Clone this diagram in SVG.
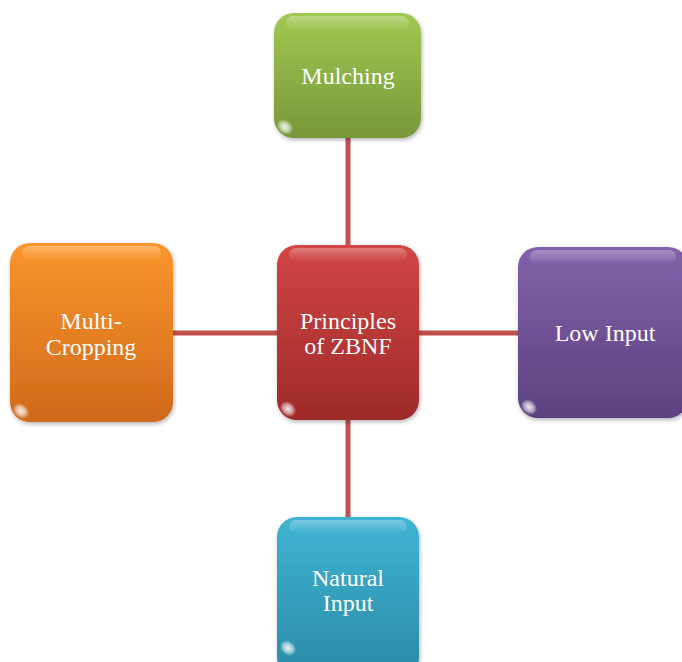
<svg xmlns="http://www.w3.org/2000/svg" width="682" height="662" viewBox="0 0 682 662">
<defs>
<linearGradient id="gGreen" x1="0" y1="0" x2="0" y2="1"><stop offset="0" stop-color="#a2c852"/><stop offset="1" stop-color="#78973a"/></linearGradient>
<linearGradient id="gRed" x1="0" y1="0" x2="0" y2="1"><stop offset="0" stop-color="#d24545"/><stop offset="1" stop-color="#9e2a2a"/></linearGradient>
<linearGradient id="gOrange" x1="0" y1="0" x2="0" y2="1"><stop offset="0" stop-color="#fa962c"/><stop offset="1" stop-color="#d0691c"/></linearGradient>
<linearGradient id="gPurple" x1="0" y1="0" x2="0" y2="1"><stop offset="0" stop-color="#8262ab"/><stop offset="1" stop-color="#5d4180"/></linearGradient>
<linearGradient id="gBlue" x1="0" y1="0" x2="0" y2="1"><stop offset="0" stop-color="#40b4d4"/><stop offset="1" stop-color="#2a8aa6"/></linearGradient>
<linearGradient id="gloss" x1="0" y1="0" x2="0" y2="1"><stop offset="0" stop-color="#fff" stop-opacity="0.3"/><stop offset="1" stop-color="#fff" stop-opacity="0"/></linearGradient>
<radialGradient id="spot" cx="0.5" cy="0.5" r="0.5"><stop offset="0" stop-color="#fff" stop-opacity="0.9"/><stop offset="0.6" stop-color="#fff" stop-opacity="0.5"/><stop offset="1" stop-color="#fff" stop-opacity="0"/></radialGradient>
<filter id="sh" x="-10%" y="-10%" width="125%" height="125%"><feGaussianBlur in="SourceAlpha" stdDeviation="2"/><feOffset dx="1" dy="2"/><feComponentTransfer><feFuncA type="linear" slope="0.3"/></feComponentTransfer><feMerge><feMergeNode/><feMergeNode in="SourceGraphic"/></feMerge></filter>
</defs>
<style>
.box{filter:url(#sh);}
.gl{fill:url(#gloss);}
.sp{fill:url(#spot);}
text{font-family:"Liberation Serif","Times New Roman",serif;font-size:24px;fill:#fff;text-anchor:middle;}
.conn{stroke:#c0504d;stroke-width:5;fill:none;}
</style>
<rect width="682" height="662" fill="#fff"/>
<g id="connectors">
<line class="conn" x1="348" y1="136" x2="348" y2="247"/>
<line class="conn" x1="348" y1="418" x2="348" y2="519"/>
<line class="conn" x1="171" y1="333" x2="279" y2="333"/>
<line class="conn" x1="417" y1="333" x2="520" y2="333"/>
</g>
<g id="mulching">
<rect class="box" x="274" y="13" width="147" height="125" rx="20" fill="url(#gGreen)"/>
<rect class="gl" x="286" y="16" width="123" height="14" rx="7"/>
<ellipse class="sp" cx="285" cy="127" rx="9" ry="7" transform="rotate(40 285 127)"/>
<text x="348" y="84">Mulching</text>
</g>
<g id="center">
<rect class="box" x="277" y="245" width="142" height="175" rx="20" fill="url(#gRed)"/>
<rect class="gl" x="289" y="248" width="118" height="14" rx="7"/>
<ellipse class="sp" cx="288" cy="409" rx="9" ry="7" transform="rotate(40 288 409)"/>
<text x="348" y="329">Principles</text>
<text x="348" y="354">of ZBNF</text>
</g>
<g id="multicropping">
<rect class="box" x="10" y="243" width="163" height="179" rx="20" fill="url(#gOrange)"/>
<rect class="gl" x="22" y="246" width="139" height="14" rx="7"/>
<ellipse class="sp" cx="21" cy="411" rx="9" ry="7" transform="rotate(40 21 411)"/>
<text x="91" y="329">Multi-</text>
<text x="91" y="355">Cropping</text>
</g>
<g id="lowinput">
<rect class="box" x="518" y="247" width="170" height="171" rx="20" fill="url(#gPurple)"/>
<rect class="gl" x="530" y="250" width="146" height="14" rx="7"/>
<ellipse class="sp" cx="529" cy="407" rx="9" ry="7" transform="rotate(40 529 407)"/>
<text x="605" y="341">Low Input</text>
</g>
<g id="naturalinput">
<rect class="box" x="277" y="517" width="142" height="160" rx="20" fill="url(#gBlue)"/>
<rect class="gl" x="289" y="520" width="118" height="14" rx="7"/>
<ellipse class="sp" cx="288" cy="648" rx="9" ry="7" transform="rotate(40 288 648)"/>
<text x="348" y="586">Natural</text>
<text x="348" y="611">Input</text>
</g>
</svg>
